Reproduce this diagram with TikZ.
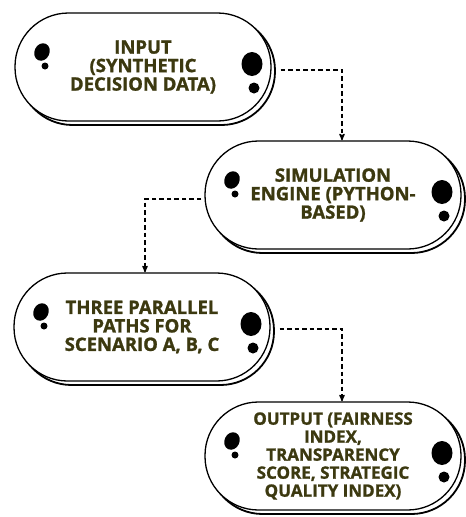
\documentclass[tikz,border=0pt]{standalone}
\usepackage{fontspec}
\setmainfont{Open Sans}[BoldFeatures={FakeBold=1.2}]
\usepackage{tikz}
\usetikzlibrary{arrows, positioning, calc, shadows}
\definecolor{labelolive}{RGB}{60,57,16}

% black pebbles on both ends of a stage
\newcommand{\pebbles}[1]{
  \fill ($(#1)+(-101,-15)$) circle [x radius=7.5pt, y radius=9pt, rotate=-25];
  \fill ($(#1)+(-98,-1)$) circle [radius=3.5pt];
  \fill ($(#1)+(109,-3)$) circle [x radius=10.5pt, y radius=12pt];
  \fill ($(#1)+(111,21)$) circle [radius=5.5pt];
}

\begin{document}
\begin{tikzpicture}[x=1pt,y=-1pt,>=stealth',thick,
		stage/.style={rectangle,rounded corners=53.5pt,draw,line width=1.3pt,fill=white,
			minimum width=256pt,minimum height=108pt,align=center,text=labelolive,
			font=\fontsize{18.5}{18.5}\selectfont\bfseries,
			general shadow={fill=white,draw=black,line width=1.8pt,shadow xshift=4pt,shadow yshift=-4pt}},
		flow/.style={->,dash pattern=on 4.5pt off 3pt,line width=1.3pt,shorten <=9pt}]
		
		\useasboundingbox (0,0) rectangle (466,517);
		
		\node[stage] (1) at (143,67) {INPUT\\(SYNTHETIC\\DECISION DATA)};
		\node[stage] (2) at (333,195) {SIMULATION\\ENGINE (PYTHON-\\BASED)};
		\node[stage] (3) at (142,327) {THREE PARALLEL\\PATHS FOR\\SCENARIO A, B, C};
		\node[stage,font=\fontsize{17}{18}\selectfont\bfseries] (4) at (333,456)
			{OUTPUT (FAIRNESS\\INDEX,\\TRANSPARENCY\\SCORE, STRATEGIC\\QUALITY INDEX)};
		
		\pebbles{1}
		\pebbles{2}
		\pebbles{3}
		\pebbles{4}
		
		\draw[flow] ([yshift=-3pt]1.east) -| ([xshift=9pt]2.north);
		\draw[flow,shorten <=3pt] ([yshift=-4pt]2.west) -| ([xshift=3pt]3.north);
		\draw[flow] ([yshift=-2pt]3.east) -| ([xshift=9pt]4.north);
		
\end{tikzpicture}
\end{document}
